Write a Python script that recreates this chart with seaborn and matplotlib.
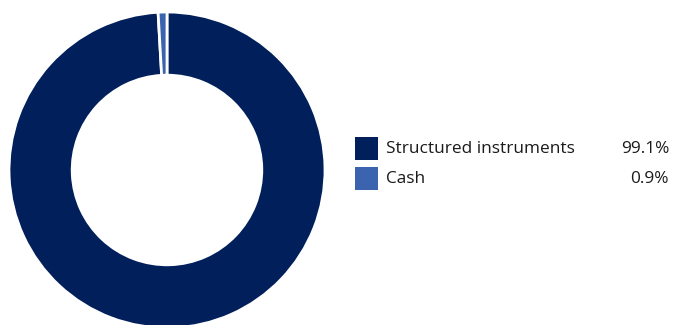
import matplotlib
matplotlib.use("Agg")
import matplotlib.pyplot as plt
from matplotlib.patches import Rectangle
import seaborn as sns

# Data
labels = ["Structured instruments", "Cash"]
values = [99.1, 0.9]
colors = ["#001F5B", "#3B63AE"]

sns.set_theme(style="white")
plt.rcParams['font.family'] = ['Open Sans', 'DejaVu Sans']

W, H = 673, 325
fig = plt.figure(figsize=(W / 100, H / 100), dpi=100)

# Donut placed in pixel coordinates
cx, cy, r = 167, 170, 158
ax = fig.add_axes([(cx - r) / W, (H - cy - r) / H, 2 * r / W, 2 * r / H])
ax.pie(values, colors=colors, startangle=90, counterclock=False,
       wedgeprops=dict(width=0.4, edgecolor='white', linewidth=2))
ax.set_xlim(-1, 1)
ax.set_ylim(-1, 1)
ax.set_aspect('equal')
ax.axis('off')

# Legend with right-aligned percentages
for i, (lab, val, col) in enumerate(zip(labels, values, colors)):
    y_top = 137 + i * 30
    fig.patches.append(Rectangle((355 / W, 1 - (y_top + 23) / H), 23 / W, 23 / H,
                                 transform=fig.transFigure, facecolor=col,
                                 edgecolor='none'))
    fig.text(386 / W, 1 - (y_top + 12) / H, lab, ha='left', va='center',
             fontsize=12.4, color='#1a1a1a')
    fig.text(669 / W, 1 - (y_top + 12) / H, f"{val:.1f}%", ha='right',
             va='center', fontsize=12.4, color='#1a1a1a')

fig.savefig("out.png", dpi=100)
